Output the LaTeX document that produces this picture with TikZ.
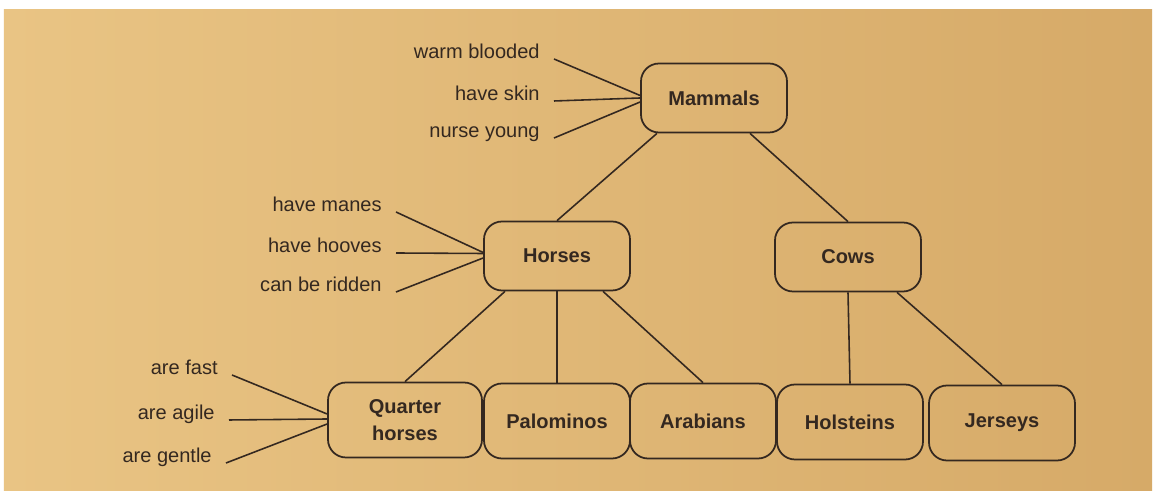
\documentclass[tikz,border=0pt]{standalone}
\usepackage{fontspec}
\setmainfont{Liberation Sans}
\usepackage{xcolor}
\usepackage{tikz}
\usetikzlibrary{positioning, calc}

\definecolor{paperlight}{RGB}{233,196,132}
\definecolor{paperdark}{RGB}{214,170,104}
\definecolor{ink}{RGB}{52,40,32}

\begin{document}
\begin{tikzpicture}[scale=2, every node/.style={font=\fontsize{11.4}{13}\selectfont, text=ink},
                    concept/.style={draw=ink, line width=1pt, rounded corners=0.36cm,
                      minimum width=2.92cm, minimum height=1.38cm, align=center,
                      font=\fontsize{11.4}{15}\selectfont\bfseries},
                    leaf/.style={concept, minimum height=1.5cm},
                    prop/.style={anchor=base east, inner xsep=0.28cm, inner ysep=0pt},
                    link/.style={draw=ink, line width=0.9pt}]
  % page
  \useasboundingbox (0,0) rectangle (11.54,4.91);
  \fill[white] (0,0) rectangle (11.54,4.91);
  \shade[left color=paperlight, right color=paperdark] (0.04,0) rectangle (11.52,4.81);

  % concepts
  \node[concept] (mammals) at (7.14,3.93) {Mammals};
  \node[concept] (horses)  at (5.57,2.35) {Horses};
  \node[concept] (cows)    at (8.48,2.34) {Cows};
  \node[leaf, minimum width=3.08cm] (quarter) at (4.05,0.71) {Quarter\\horses};
  \node[leaf] (palominos) at (5.57,0.70) {Palominos};
  \node[leaf] (arabians)  at (7.03,0.70) {Arabians};
  \node[leaf] (holsteins) at (8.50,0.69) {Holsteins};
  \node[leaf] (jerseys)   at (10.02,0.68) {Jerseys};

  % properties
  \node[prop] (warm)   at (5.54,4.32) {warm blooded};
  \node[prop] (skin)   at (5.54,3.90) {have skin};
  \node[prop] (nurse)  at (5.54,3.53) {nurse young};
  \node[prop] (manes)  at (3.96,2.79) {have manes};
  \node[prop] (hooves) at (3.96,2.38) {have hooves};
  \node[prop] (ridden) at (3.96,1.99) {can be ridden};
  \node[prop] (fast)   at (2.32,1.16) {are fast};
  \node[prop] (agile)  at (2.29,0.71) {are agile};
  \node[prop] (gentle) at (2.26,0.28) {are gentle};

  % isa links (shifts are scaled too)
  \draw[link] ([xshift=-0.57cm]mammals.south) -- (horses.north);
  \draw[link] ([xshift=0.36cm]mammals.south) -- (cows.north);
  \draw[link] ([xshift=-0.52cm]horses.south) -- (quarter.north);
  \draw[link] (horses.south) -- (palominos.north);
  \draw[link] ([xshift=0.46cm]horses.south) -- (arabians.north);
  \draw[link] (cows.south) -- (holsteins.north);
  \draw[link] ([xshift=0.49cm]cows.south) -- (jerseys.north);

  % property links
  \draw[link] (warm.base east)   -- ([yshift=0.025cm]mammals.west);
  \draw[link] (skin.base east)   -- (mammals.west);
  \draw[link] (nurse.base east)  -- ([yshift=-0.04cm]mammals.west);
  \draw[link] (manes.base east)  -- ([yshift=0.035cm]horses.west);
  \draw[link] (hooves.base east) -- ([yshift=0.025cm]horses.west);
  \draw[link] (ridden.base east) -- ([yshift=-0.02cm]horses.west);
  \draw[link] (fast.base east)   -- ([yshift=0.06cm]quarter.west);
  \draw[link] (agile.base east)  -- ([yshift=0.01cm]quarter.west);
  \draw[link] (gentle.base east) -- ([yshift=-0.04cm]quarter.west);
\end{tikzpicture}
\end{document}
